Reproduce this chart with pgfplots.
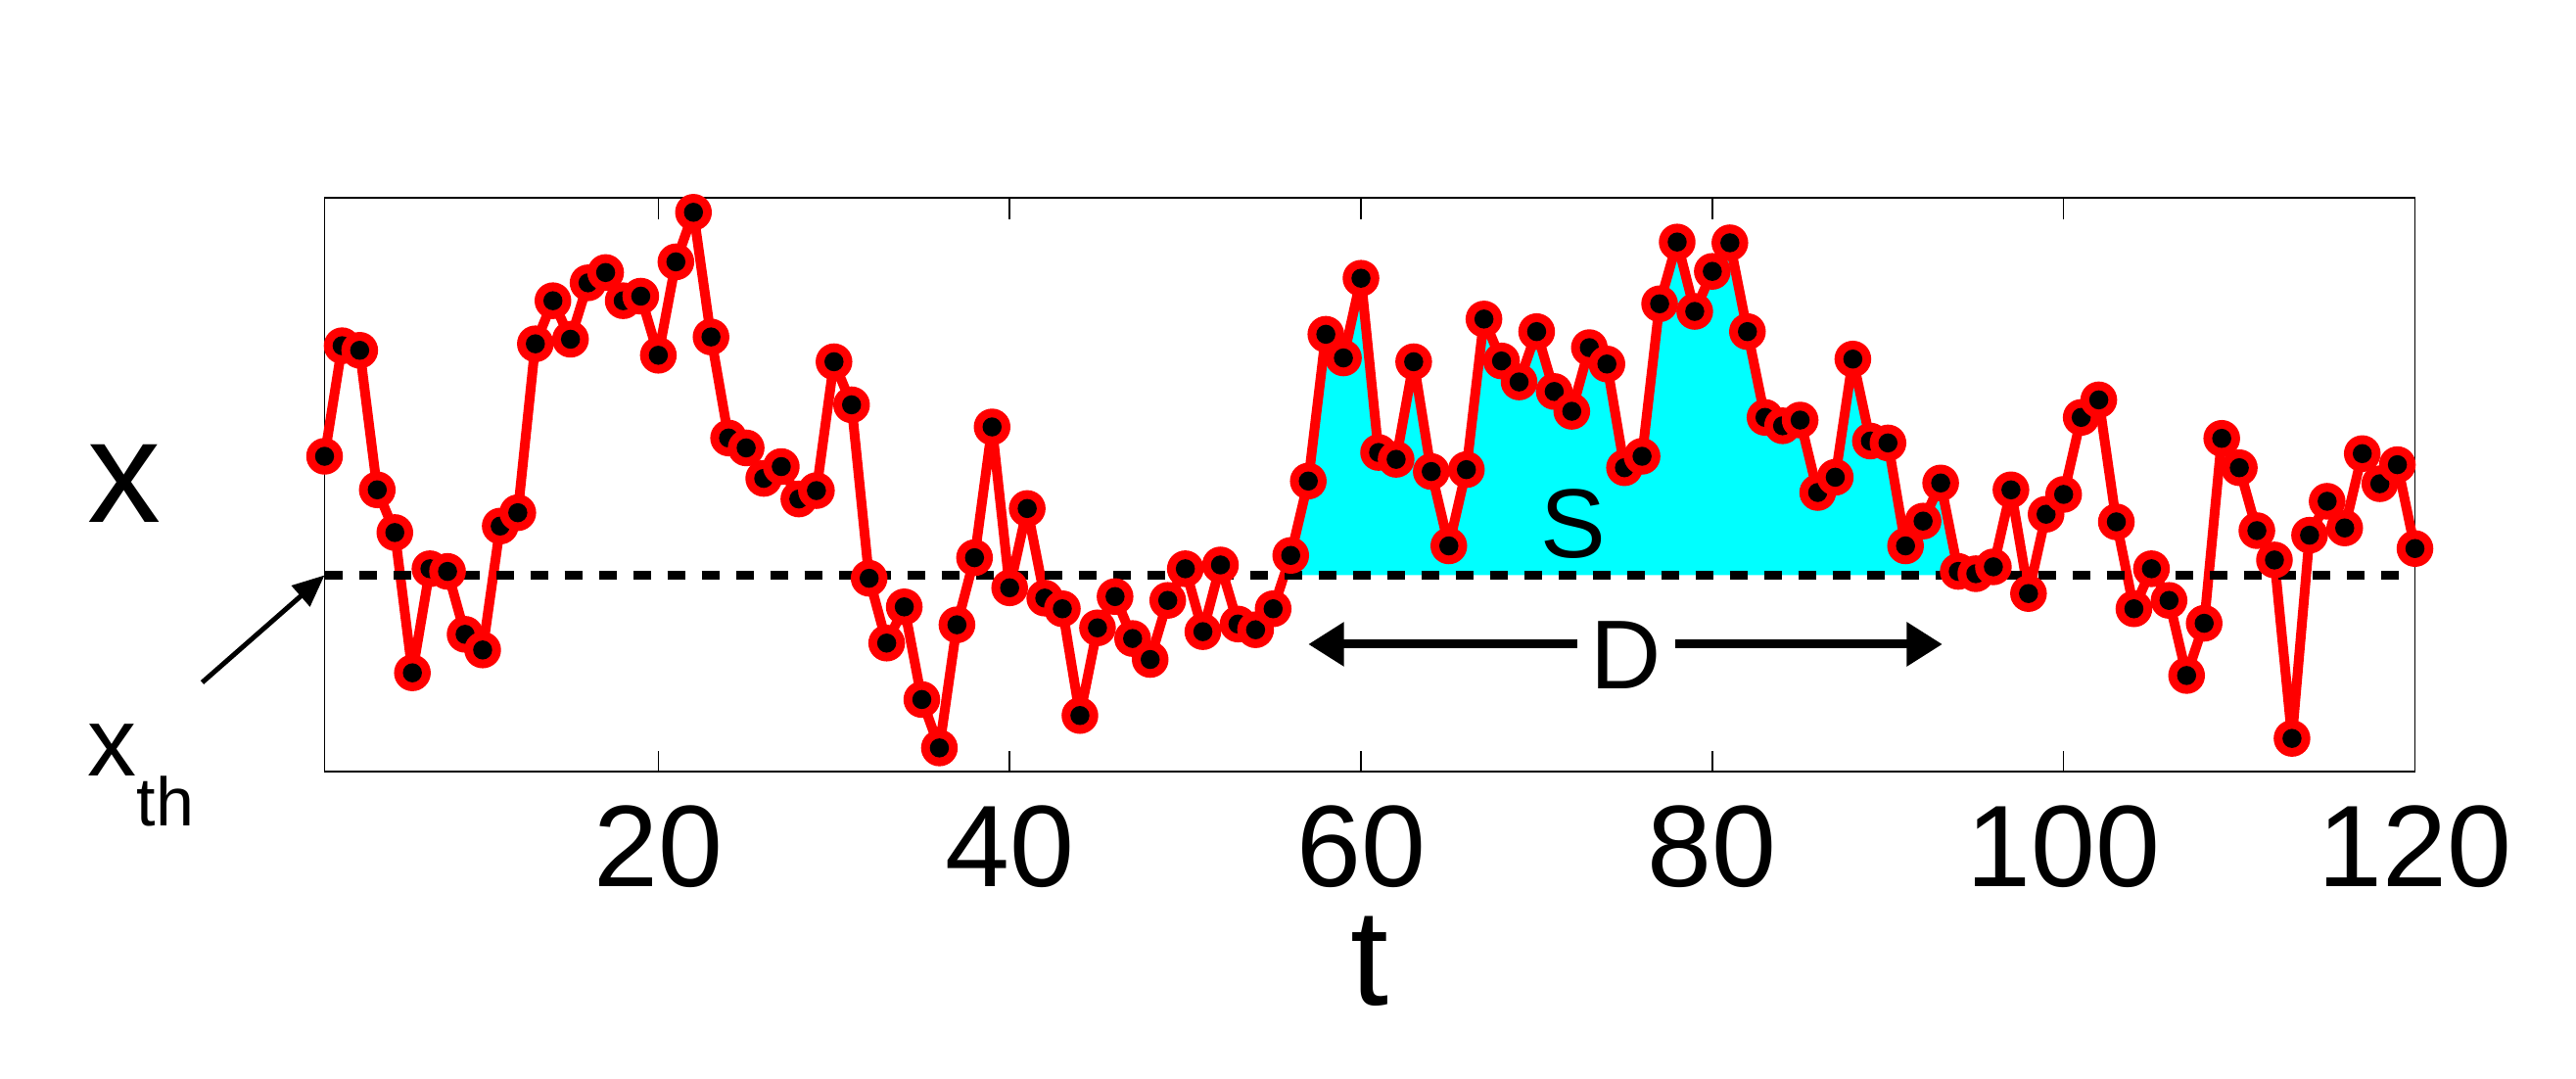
\documentclass[border=0pt]{standalone}
\usepackage{fontspec}
\setmainfont{Liberation Sans}
\usepackage{pgfplots}
\usepackage{pgfplotstable}
\pgfplotsset{compat=1.18}
\usetikzlibrary{arrows.meta}

\definecolor{areacyan}{RGB}{0,255,255}
\definecolor{linered}{RGB}{255,0,0}

% red ring with a black centre, drawn point by point
\pgfdeclareplotmark{ringdot}{%
	\pgfsetfillcolor{linered}\pgfpathcircle{\pgfpointorigin}{3.75pt}\pgfusepathqfill
	\pgfsetfillcolor{black}\pgfpathcircle{\pgfpointorigin}{1.95pt}\pgfusepathqfill}

\pgfplotstableread{
t x
1 8.27
2 11.17
3 11.05
4 7.39
5 6.27
6 2.59
7 5.32
8 5.25
9 3.60
10 3.19
11 6.44
12 6.79
13 11.22
14 12.35
15 11.34
16 12.82
17 13.09
18 12.35
19 12.47
20 10.92
21 13.37
22 14.67
23 11.40
24 8.75
25 8.49
26 7.69
27 8.00
28 7.15
29 7.37
30 10.75
31 9.62
32 5.07
33 3.37
34 4.32
35 1.89
36 0.62
37 3.85
38 5.61
39 9.04
40 4.82
41 6.90
42 4.55
43 4.27
44 1.47
45 3.77
46 4.59
47 3.49
48 2.94
49 4.49
50 5.32
51 3.67
52 5.42
53 3.87
54 3.72
55 4.27
56 5.67
57 7.62
58 11.47
59 10.85
60 12.94
61 8.37
62 8.19
63 10.75
64 7.87
65 5.92
66 7.92
67 11.87
68 10.77
69 10.22
70 11.54
71 9.97
72 9.45
73 11.12
74 10.69
75 7.97
76 8.27
77 12.27
78 13.89
79 12.07
80 13.12
81 13.87
82 11.54
83 9.29
84 9.07
85 9.22
86 7.32
87 7.72
88 10.82
89 8.67
90 8.62
91 5.92
92 6.57
93 7.57
94 5.25
95 5.19
96 5.37
97 7.39
98 4.67
99 6.75
100 7.27
101 9.29
102 9.75
103 6.55
104 4.27
105 5.32
106 4.49
107 2.52
108 3.89
109 8.74
110 7.97
111 6.32
112 5.55
113 0.87
114 6.20
115 7.09
116 6.39
117 8.34
118 7.55
119 8.05
120 5.85
}\series

\begin{document}
\begin{tikzpicture}

% fixed frame, same proportions as the reference (1 px = 0.2pt)
\path[use as bounding box] (-66.3pt,-62.6pt) rectangle (459.9pt,157.6pt);

\begin{axis}[
	width=427pt,
	height=117.2pt,
	scale only axis,
	at={(0pt,0pt)},
	anchor=south west,
	xmin=1,
	xmax=120,
	ymin=0,
	ymax=15.05,
	clip=false,
	axis line style={line width=0.3pt},
	xtick={20,40,60,80,100,120},
	ytick=\empty,
	xtick pos=both,
	tick align=inside,
	major tick length=4.3pt,
	every tick/.style={black,line width=0.3pt},
	/pgf/number format/assume math mode=true,
	xticklabel style={font=\fontsize{23.7}{24}\selectfont,inner sep=0pt,yshift=-6.8pt},
	]

% area S above the threshold
\addplot[fill=areacyan,draw=none]
table[row sep=crcr]{
56 5.15\\
56 5.67\\
57 7.62\\
58 11.47\\
59 10.85\\
60 12.94\\
61 8.37\\
62 8.19\\
63 10.75\\
64 7.87\\
65 5.92\\
66 7.92\\
67 11.87\\
68 10.77\\
69 10.22\\
70 11.54\\
71 9.97\\
72 9.45\\
73 11.12\\
74 10.69\\
75 7.97\\
76 8.27\\
77 12.27\\
78 13.89\\
79 12.07\\
80 13.12\\
81 13.87\\
82 11.54\\
83 9.29\\
84 9.07\\
85 9.22\\
86 7.32\\
87 7.72\\
88 10.82\\
89 8.67\\
90 8.62\\
91 5.92\\
92 6.57\\
93 7.57\\
94 5.25\\
94 5.15\\
} -- cycle;

% time series x(t)
\addplot[
color=linered,
line width=2pt,
line join=round,
mark=ringdot
] table[x=t,y=x] {\series};

% threshold x_th
\addplot[black,line width=1.8pt,dash pattern=on 3.6pt off 3.4pt]
table[row sep=crcr]{
1 5.15\\
120 5.15\\
};

% duration D
\draw[-{Triangle[length=7.3pt,width=8.6pt]},line width=1.8pt]
	(axis cs:72.3,3.34) -- (axis cs:57,3.34);
\draw[-{Triangle[length=7.3pt,width=8.6pt]},line width=1.8pt]
	(axis cs:77.9,3.34) -- (axis cs:93.1,3.34);
\node[anchor=base,inner sep=0pt,font=\fontsize{20}{20}\selectfont] at (axis cs:75.1,2.17) {D};
\node[anchor=base,inner sep=0pt,font=\fontsize{20}{20}\selectfont] at (axis cs:72.1,5.62) {S};

% labels
\node[anchor=base,inner sep=0pt,font=\fontsize{30}{30}\selectfont] at ([shift={(-40.8pt,51pt)}]rel axis cs:0,0) {x};
\node[anchor=base,inner sep=0pt,font=\fontsize{28}{28}\selectfont] at ([yshift=-47.7pt]rel axis cs:0.5,0) {t};
\node[anchor=base west,inner sep=0pt,font=\fontsize{20}{20}\selectfont] at ([shift={(-48.5pt,-0.8pt)}]rel axis cs:0,0)
	{x\raisebox{-10.2pt}{\fontsize{14}{14}\selectfont th}};
\draw[-{Triangle[length=6.5pt,width=5.5pt]},line width=1pt]
	([shift={(-25pt,-21.9pt)}]axis cs:1,5.15) -- (axis cs:1,5.15);

\end{axis}

\end{tikzpicture}
\end{document}
